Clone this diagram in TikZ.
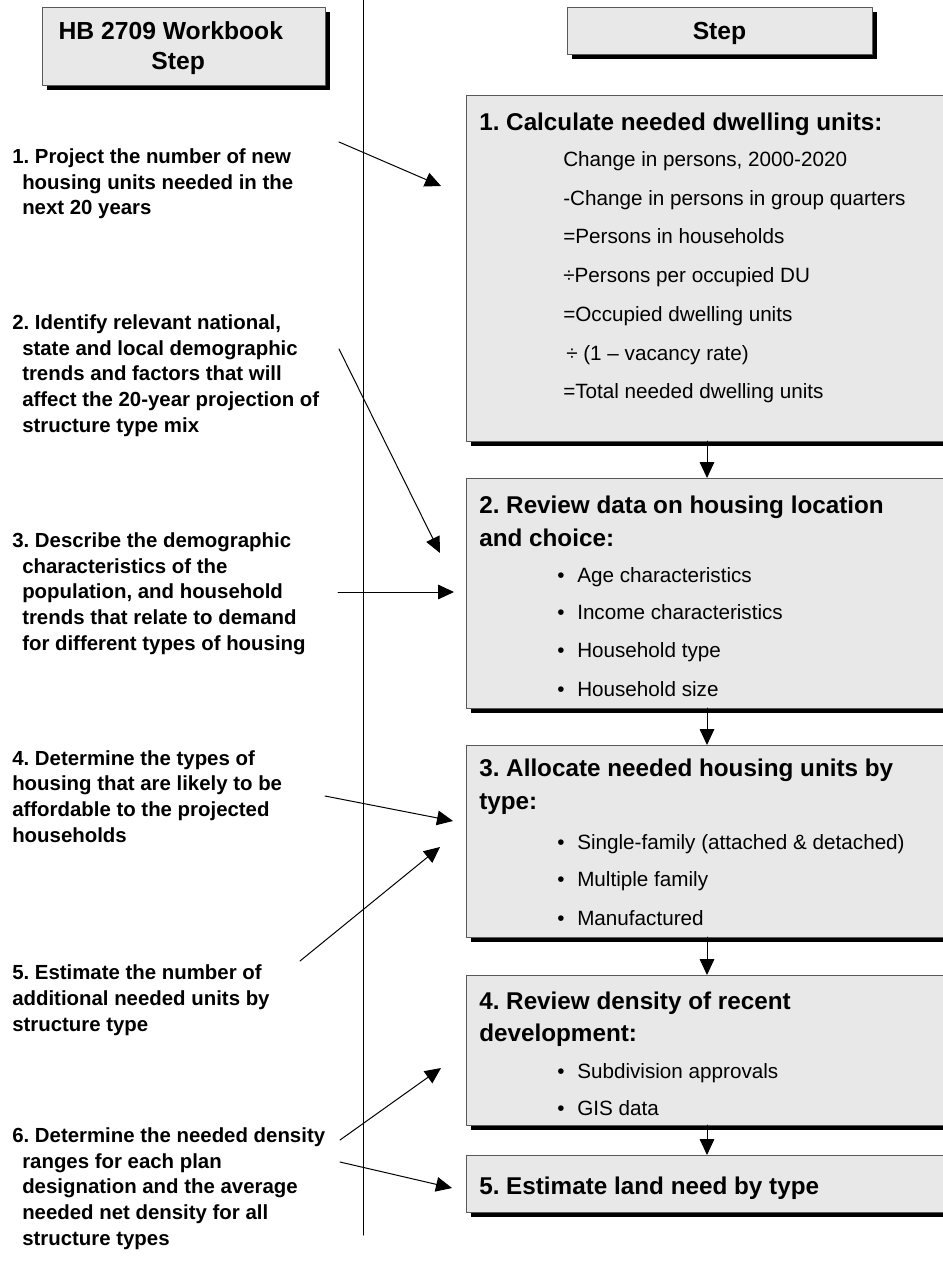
\documentclass[tikz,border=0pt]{standalone}
\usepackage{fontspec}
\setmainfont{Liberation Sans}
\usetikzlibrary{arrows.meta,shadows}
\definecolor{boxgray}{rgb}{0.91,0.91,0.91}
\definecolor{edgegray}{rgb}{0.35,0.35,0.35}
\tikzset{
  stepbox/.style={draw=edgegray, fill=boxgray, line width=0.6pt, inner sep=0pt, outer sep=0pt,
    drop shadow={shadow xshift=3.75pt, shadow yshift=-3.75pt, fill=black, opacity=1}},
  steptitle/.style={anchor=base west, inner sep=0pt, font=\fontsize{18.2}{22}\selectfont\bfseries},
  steptext/.style={anchor=base west, inner sep=0pt, font=\fontsize{15.5}{18}\selectfont},
  wbtext/.style={anchor=base west, inner sep=0pt, align=left, font=\fontsize{15.3}{19.2}\selectfont\bfseries},
  headtext/.style={align=center, font=\fontsize{18.5}{22}\selectfont\bfseries}
}
\newcommand{\ind}{\hspace*{7.5pt}}
\newcommand{\bul}{\makebox[15pt][l]{•}}
\frenchspacing

\begin{document}
\begin{tikzpicture}[line cap=round,line join=round,>={Triangle[length=12pt,width=11pt]},x=0.75pt,y=-0.75pt]
    \useasboundingbox (0,0) rectangle (942,1262);
    % divider
    \draw[line width=0.75pt] (363,0) -- (363,1235);
    % column heads
    \node[stepbox, anchor=north west, minimum width=212.25pt, minimum height=58.5pt] (wbhead) at (42,7) {};
    \node[headtext, xshift=-4pt, yshift=-1.5pt] (wblabel) at (wbhead.center) {HB 2709 Workbook\hspace*{11pt}\\Step};
    \node[stepbox, anchor=north west, minimum width=228.75pt, minimum height=35.25pt] (stephead) at (567,7) {};
    \node[headtext, yshift=-2.5pt] (steplabel) at (stephead.center) {Step};
    % step boxes
    \node[stepbox, anchor=north west, minimum width=370.5pt, minimum height=259.5pt] (box1) at (466,95) {};
    \node[stepbox, anchor=north west, minimum width=370.5pt, minimum height=172.5pt] (box2) at (466,478) {};
    \node[stepbox, anchor=north west, minimum width=370.5pt, minimum height=144pt] (box3) at (466,745) {};
    \node[stepbox, anchor=north west, minimum width=370.5pt, minimum height=112.5pt] (box4) at (466,975) {};
    \node[stepbox, anchor=north west, minimum width=370.5pt, minimum height=42.75pt] (box5) at (466,1155) {};
    \coordinate (mid) at (707,0);
    \foreach \a/\b in {box1/box2,box2/box3,box3/box4,box4/box5}
    \draw[->,line width=0.75pt] (\a.south -| mid) -- (\b.north -| mid);
    % box 1
    \node[steptitle] (t1) at (479,131) {1. Calculate needed dwelling units:};
    \node[steptext] (l11) at (563,167) {Change in persons, 2000-2020};
    \node[steptext] (l12) at (563,206) {-Change in persons in group quarters};
    \node[steptext] (l13) at (563,244) {=Persons in households};
    \node[steptext] (l14) at (563,283) {÷Persons per occupied DU};
    \node[steptext] (l15) at (563,321) {=Occupied dwelling units};
    \node[steptext] (l16) at (566,360) {÷ (1 – vacancy rate)};
    \node[steptext] (l17) at (563,398) {=Total needed dwelling units};
    % box 2
    \node[steptitle] (t2) at (479,513) {2. Review data on housing location};
    \node[steptitle] (t2b) at (479,546) {and choice:};
    \node[steptext] (l21) at (557,582) {\bul Age characteristics};
    \node[steptext] (l22) at (557,619) {\bul Income characteristics};
    \node[steptext] (l23) at (557,657) {\bul Household type};
    \node[steptext] (l24) at (557,696) {\bul Household size};
    % box 3
    \node[steptitle] (t3) at (479,776) {3. Allocate needed housing units by};
    \node[steptitle] (t3b) at (479,809) {type:};
    \node[steptext] (l31) at (557,849) {\bul Single-family (attached \& detached)};
    \node[steptext] (l32) at (557,886) {\bul Multiple family};
    \node[steptext] (l33) at (557,925) {\bul Manufactured};
    % box 4
    \node[steptitle] (t4) at (479,1009) {4. Review density of recent};
    \node[steptitle] (t4b) at (479,1041) {development:};
    \node[steptext] (l41) at (557,1078) {\bul Subdivision approvals};
    \node[steptext] (l42) at (557,1115) {\bul GIS data};
    % box 5
    \node[steptitle] (t5) at (479,1194) {5. Estimate land need by type};
    % workbook steps (anchored on last line)
    \node[wbtext] (w1) at (12,215) {1. Project the number of new\\\ind housing units needed in the\\\ind next 20 years};
    \node[wbtext] (w2) at (12,432) {2. Identify relevant national,\\\ind state and local demographic\\\ind trends and factors that will\\\ind affect the 20-year projection of\\\ind structure type mix};
    \node[wbtext] (w3) at (12,650) {3. Describe the demographic\\\ind characteristics of the\\\ind population, and household\\\ind trends that relate to demand\\\ind for different types of housing};
    \node[wbtext] (w4) at (12,842) {4. Determine the types of\\housing that are likely to be\\affordable to the projected\\households};
    \node[wbtext] (w5) at (12,1031) {5. Estimate the number of\\additional needed units by\\structure type};
    \node[wbtext] (w6) at (12,1245) {6. Determine the needed density\\\ind ranges for each plan\\\ind designation and the average\\\ind needed net density for all\\\ind structure types};
    % arrow ends
    \coordinate (s1) at (339,142); \coordinate (e1) at (441,186);
    \coordinate (s2) at (339,349); \coordinate (e2) at (440,553);
    \coordinate (s3) at (338,592); \coordinate (e3) at (454,592);
    \coordinate (s4) at (325,796); \coordinate (e4) at (453,821);
    \coordinate (s5) at (300,961); \coordinate (e5) at (440,847);
    \coordinate (s6) at (340,1140); \coordinate (e6) at (441,1068);
    \coordinate (s7) at (340,1162); \coordinate (e7) at (452,1188);
    \foreach \i in {1,...,7}
    \draw[->,line width=0.75pt] (s\i) -- (e\i);
\end{tikzpicture}
\end{document}
